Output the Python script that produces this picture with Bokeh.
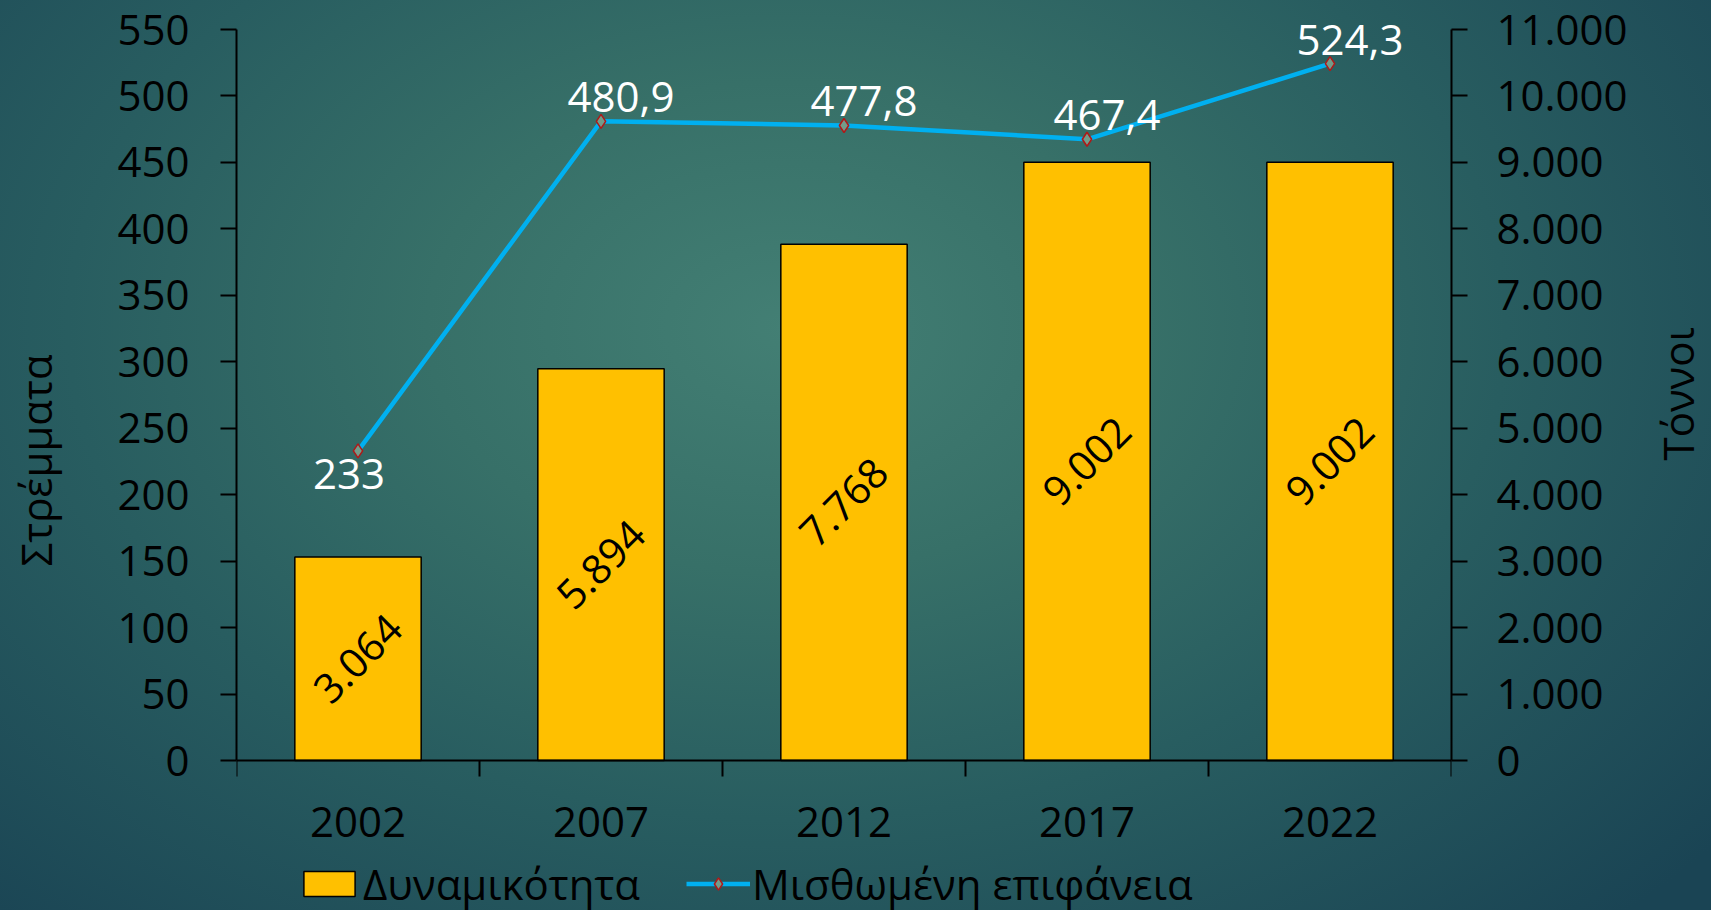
import math
from bokeh.plotting import figure
from bokeh.models import (Range1d, LinearAxis, FixedTicker, ColumnDataSource,
                          Legend, LegendItem, LabelSet)
from bokeh.core.properties import value
from bokeh.embed import file_html
from bokeh.resources import INLINE

# ---------------- data ----------------
years = ["2002", "2007", "2012", "2017", "2022"]
capacity_tons = [3064, 5894, 7768, 9002, 9002]          # Δυναμικότητα (right axis, tonnes)
leased_area = [233.0, 480.9, 477.8, 467.4, 524.3]      # Μισθωμένη επιφάνεια (left axis, stremmata)
left_ticks = [0, 50, 100, 150, 200, 250, 300, 350, 400, 450, 500, 550]
right_ticks = [0, 1000, 2000, 3000, 4000, 5000, 6000, 7000, 8000, 9000, 10000, 11000]
left_axis_title = "Στρέμματα"
right_axis_title = "Τόννοι"
bar_series_name = "Δυναμικότητα"
line_series_name = "Μισθωμένη επιφάνεια"

# ---------------- style / layout ----------------
FONT = "Open Sans"
FS = "42px"
BAR_COLOR = "#FFC000"
LINE_COLOR = "#00B0F0"
AXIS_PX = 731                      # pixel height of the 0..top-tick span
FRAME_TOP, ZERO_Y, FRAME_BOTTOM = 6, 760, 914   # page pixels


def thousands(v):
    return f"{int(v):,}".replace(",", ".")


def decimal_comma(v):
    if float(v).is_integer():
        return str(int(v))
    return f"{v:.1f}".replace(".", ",")


xs = list(range(1, len(years) + 1))
left_top = left_ticks[-1]
right_top = right_ticks[-1]
unit_px = AXIS_PX / left_top
y_hi = left_top + (ZERO_Y - AXIS_PX - FRAME_TOP) / unit_px
y_lo = -(FRAME_BOTTOM - ZERO_Y) / unit_px
ratio = right_top / left_top

p = figure(frame_width=1215, frame_height=FRAME_BOTTOM - FRAME_TOP,
           x_range=Range1d(0.5, len(years) + 0.5),
           y_range=Range1d(y_lo, y_hi),
           x_axis_type=None, y_axis_type=None,
           output_backend="svg", toolbar_location=None,
           min_border_left=236, min_border_right=260,
           min_border_top=FRAME_TOP, min_border_bottom=0)
p.extra_y_ranges = {"tons": Range1d(y_lo * ratio, y_hi * ratio)}
p.background_fill_color = None
p.border_fill_color = None
p.outline_line_color = None


def style_axis(ax):
    ax.axis_line_color = "black"
    ax.axis_line_width = 2
    ax.major_tick_line_color = "black"
    ax.major_tick_line_width = 2
    ax.major_tick_in = 0
    ax.major_tick_out = 16
    ax.minor_tick_line_color = None
    ax.major_label_text_font = FONT
    ax.major_label_text_font_size = FS
    ax.major_label_text_color = "black"
    ax.axis_label_text_font = FONT
    ax.axis_label_text_font_size = FS
    ax.axis_label_text_font_style = "normal"
    ax.axis_label_text_color = "black"


left_ax = LinearAxis(ticker=FixedTicker(ticks=left_ticks, minor_ticks=[]),
                     bounds=(left_ticks[0], left_top), axis_label=left_axis_title)
style_axis(left_ax)
left_ax.major_label_standoff = 31
left_ax.axis_label_standoff = 50
p.add_layout(left_ax, "left")

right_ax = LinearAxis(y_range_name="tons",
                      ticker=FixedTicker(ticks=right_ticks, minor_ticks=[]),
                      bounds=(right_ticks[0], right_top),
                      major_label_overrides={t: thousands(t) for t in right_ticks})
style_axis(right_ax)
right_ax.major_label_standoff = 29
p.add_layout(right_ax, "right")

# outer right axis carrying only the title (reads bottom-to-top like the reference)
title_ax = LinearAxis(ticker=FixedTicker(ticks=[], minor_ticks=[]),
                      axis_label=right_axis_title)
style_axis(title_ax)
title_ax.axis_line_color = None
title_ax.major_tick_line_color = None
title_ax.major_tick_out = 0
title_ax.major_label_standoff = 0
title_ax.axis_label_standoff = 47
try:
    title_ax.axis_label_orientation = math.pi / 2
except Exception:
    pass
p.add_layout(title_ax, "right")

# category axis drawn at y = 0 (the frame continues below it to hold the legend)
x_ax = LinearAxis(ticker=FixedTicker(ticks=xs, minor_ticks=[i + 0.5 for i in range(len(years) + 1)]),
                  major_label_overrides={x: y for x, y in zip(xs, years)},
                  fixed_location=0)
style_axis(x_ax)
x_ax.major_tick_line_color = None
x_ax.major_tick_out = 0
x_ax.minor_tick_line_color = "black"
x_ax.minor_tick_line_width = 2
x_ax.minor_tick_in = 0
x_ax.minor_tick_out = 16
x_ax.major_label_standoff = 30
p.add_layout(x_ax, "below")

# ---------------- bars ----------------
bar_src = ColumnDataSource(dict(x=xs, top=capacity_tons,
                                mid=[v / 2 for v in capacity_tons],
                                label=[thousands(v) for v in capacity_tons]))
bars = p.vbar(x="x", top="top", bottom=0, width=0.52, source=bar_src, y_range_name="tons",
              fill_color=BAR_COLOR, line_color="black", line_width=1.5)

bar_labels = LabelSet(x="x", y="mid", text="label", source=bar_src, y_range_name="tons",
                      angle=math.pi / 4, text_align="center", text_baseline="middle",
                      text_font=value(FONT), text_font_size="41px", text_color="black")
p.add_layout(bar_labels)

# ---------------- line ----------------
line_src = ColumnDataSource(dict(x=xs, y=leased_area,
                                 label=[decimal_comma(v) for v in leased_area]))
line_r = p.line(x="x", y="y", source=line_src, line_color=LINE_COLOR, line_width=4.5)
mark_r = p.scatter(x="x", y="y", source=line_src, marker="diamond", size=14,
                   fill_color="#739C8A", line_color="#B01818", line_width=1.5)

# first point label sits below the point, the rest above
below_src = ColumnDataSource(dict(x=xs[:1], y=leased_area[:1],
                                  label=[decimal_comma(v) for v in leased_area[:1]]))
above_src = ColumnDataSource(dict(x=xs[1:], y=leased_area[1:],
                                  label=[decimal_comma(v) for v in leased_area[1:]]))
p.add_layout(LabelSet(x="x", y="y", text="label", source=above_src,
                      x_offset=20, y_offset=9, text_align="center", text_baseline="alphabetic",
                      text_font=value(FONT), text_font_size=FS, text_color="white"))
p.add_layout(LabelSet(x="x", y="y", text="label", source=below_src,
                      x_offset=-9, y_offset=-38, text_align="center", text_baseline="alphabetic",
                      text_font=value(FONT), text_font_size=FS, text_color="white"))

# ---------------- legend ----------------
legend = Legend(items=[LegendItem(label=value(bar_series_name), renderers=[bars]),
                       LegendItem(label=value(line_series_name), renderers=[line_r, mark_r])],
                orientation="horizontal", location=(61, 2),
                glyph_width=64, glyph_height=31, label_standoff=2, spacing=46,
                padding=0, margin=0, border_line_color=None, background_fill_alpha=0,
                label_text_font=FONT, label_text_font_size=FS, label_text_color="black")
p.add_layout(legend, "center")

html = file_html(p, INLINE, title="chart")
css = ("<style>html{min-height:100%;overflow:hidden;background:radial-gradient(ellipse 70% 90% at 46% 36%,"
       "#437F74 0%,#377068 30%,#285D60 60%,#1A4454 100%);}"
       "body{background:transparent;overflow:hidden;}</style></head>")
html = html.replace("</head>", css, 1)
open("out.html", "w").write(html)
